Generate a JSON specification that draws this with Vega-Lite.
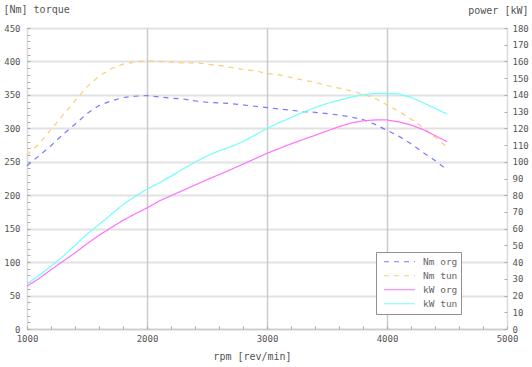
{
  "$schema": "https://vega.github.io/schema/vega-lite/v6.json",
  "autosize": {"type": "none"},
  "padding": {"left": 27, "top": 28, "right": 25, "bottom": 38},
  "width": 480,
  "height": 301,
  "background": "white",
  "datasets": {
    "nm": [
      {"rpm":1000,"s":"Nm org","v":244},{"rpm":1100,"s":"Nm org","v":259},{"rpm":1200,"s":"Nm org","v":274},{"rpm":1300,"s":"Nm org","v":291},{"rpm":1400,"s":"Nm org","v":306},{"rpm":1500,"s":"Nm org","v":322},{"rpm":1600,"s":"Nm org","v":334},{"rpm":1700,"s":"Nm org","v":341},{"rpm":1800,"s":"Nm org","v":346},{"rpm":1900,"s":"Nm org","v":348},{"rpm":2000,"s":"Nm org","v":349},{"rpm":2100,"s":"Nm org","v":347},{"rpm":2200,"s":"Nm org","v":345},{"rpm":2300,"s":"Nm org","v":344},{"rpm":2400,"s":"Nm org","v":341},{"rpm":2500,"s":"Nm org","v":339},{"rpm":2600,"s":"Nm org","v":338},{"rpm":2700,"s":"Nm org","v":337},{"rpm":2800,"s":"Nm org","v":335},{"rpm":2900,"s":"Nm org","v":333},{"rpm":3000,"s":"Nm org","v":331},{"rpm":3100,"s":"Nm org","v":329},{"rpm":3200,"s":"Nm org","v":327},{"rpm":3300,"s":"Nm org","v":325},{"rpm":3400,"s":"Nm org","v":324},{"rpm":3500,"s":"Nm org","v":322},{"rpm":3600,"s":"Nm org","v":320},{"rpm":3700,"s":"Nm org","v":317},{"rpm":3800,"s":"Nm org","v":313},{"rpm":3900,"s":"Nm org","v":306},{"rpm":4000,"s":"Nm org","v":297},{"rpm":4100,"s":"Nm org","v":288},{"rpm":4200,"s":"Nm org","v":277},{"rpm":4300,"s":"Nm org","v":264},{"rpm":4400,"s":"Nm org","v":252},{"rpm":4500,"s":"Nm org","v":238},
      {"rpm":1000,"s":"Nm tun","v":260},{"rpm":1100,"s":"Nm tun","v":277},{"rpm":1200,"s":"Nm tun","v":298},{"rpm":1300,"s":"Nm tun","v":320},{"rpm":1400,"s":"Nm tun","v":341},{"rpm":1500,"s":"Nm tun","v":362},{"rpm":1600,"s":"Nm tun","v":378},{"rpm":1700,"s":"Nm tun","v":389},{"rpm":1800,"s":"Nm tun","v":396},{"rpm":1900,"s":"Nm tun","v":399},{"rpm":2000,"s":"Nm tun","v":401},{"rpm":2100,"s":"Nm tun","v":400},{"rpm":2200,"s":"Nm tun","v":399},{"rpm":2300,"s":"Nm tun","v":398},{"rpm":2400,"s":"Nm tun","v":398},{"rpm":2500,"s":"Nm tun","v":396},{"rpm":2600,"s":"Nm tun","v":394},{"rpm":2700,"s":"Nm tun","v":391},{"rpm":2800,"s":"Nm tun","v":388},{"rpm":2900,"s":"Nm tun","v":386},{"rpm":3000,"s":"Nm tun","v":382},{"rpm":3100,"s":"Nm tun","v":380},{"rpm":3200,"s":"Nm tun","v":376},{"rpm":3300,"s":"Nm tun","v":372},{"rpm":3400,"s":"Nm tun","v":369},{"rpm":3500,"s":"Nm tun","v":364},{"rpm":3600,"s":"Nm tun","v":360},{"rpm":3700,"s":"Nm tun","v":356},{"rpm":3800,"s":"Nm tun","v":351},{"rpm":3900,"s":"Nm tun","v":345},{"rpm":4000,"s":"Nm tun","v":335},{"rpm":4100,"s":"Nm tun","v":325},{"rpm":4200,"s":"Nm tun","v":314},{"rpm":4300,"s":"Nm tun","v":301},{"rpm":4400,"s":"Nm tun","v":287},{"rpm":4500,"s":"Nm tun","v":272}
    ],
    "kw": [
      {"rpm":1000,"s":"kW org","v":25.6},{"rpm":1100,"s":"kW org","v":30.2},{"rpm":1200,"s":"kW org","v":35.5},{"rpm":1300,"s":"kW org","v":40.5},{"rpm":1400,"s":"kW org","v":45.5},{"rpm":1500,"s":"kW org","v":51},{"rpm":1600,"s":"kW org","v":56},{"rpm":1700,"s":"kW org","v":60.5},{"rpm":1800,"s":"kW org","v":65},{"rpm":1900,"s":"kW org","v":68.8},{"rpm":2000,"s":"kW org","v":72.4},{"rpm":2100,"s":"kW org","v":76.5},{"rpm":2200,"s":"kW org","v":79.7},{"rpm":2300,"s":"kW org","v":82.9},{"rpm":2400,"s":"kW org","v":86.1},{"rpm":2500,"s":"kW org","v":89.3},{"rpm":2600,"s":"kW org","v":92.3},{"rpm":2700,"s":"kW org","v":95.4},{"rpm":2800,"s":"kW org","v":98.6},{"rpm":2900,"s":"kW org","v":101.8},{"rpm":3000,"s":"kW org","v":105.1},{"rpm":3100,"s":"kW org","v":107.9},{"rpm":3200,"s":"kW org","v":110.7},{"rpm":3300,"s":"kW org","v":113.3},{"rpm":3400,"s":"kW org","v":115.8},{"rpm":3500,"s":"kW org","v":118.4},{"rpm":3600,"s":"kW org","v":121},{"rpm":3700,"s":"kW org","v":123.2},{"rpm":3800,"s":"kW org","v":124.5},{"rpm":3900,"s":"kW org","v":125},{"rpm":4000,"s":"kW org","v":125},{"rpm":4100,"s":"kW org","v":123.8},{"rpm":4200,"s":"kW org","v":122},{"rpm":4300,"s":"kW org","v":119.3},{"rpm":4400,"s":"kW org","v":115.7},{"rpm":4500,"s":"kW org","v":112},
      {"rpm":1000,"s":"kW tun","v":27},{"rpm":1100,"s":"kW tun","v":32},{"rpm":1200,"s":"kW tun","v":37.5},{"rpm":1300,"s":"kW tun","v":43.5},{"rpm":1400,"s":"kW tun","v":50},{"rpm":1500,"s":"kW tun","v":56.8},{"rpm":1600,"s":"kW tun","v":62.5},{"rpm":1700,"s":"kW tun","v":68.4},{"rpm":1800,"s":"kW tun","v":74.4},{"rpm":1900,"s":"kW tun","v":79.2},{"rpm":2000,"s":"kW tun","v":83.7},{"rpm":2100,"s":"kW tun","v":87.3},{"rpm":2200,"s":"kW tun","v":91.4},{"rpm":2300,"s":"kW tun","v":95.6},{"rpm":2400,"s":"kW tun","v":99.8},{"rpm":2500,"s":"kW tun","v":103.5},{"rpm":2600,"s":"kW tun","v":106.5},{"rpm":2700,"s":"kW tun","v":109},{"rpm":2800,"s":"kW tun","v":112.1},{"rpm":2900,"s":"kW tun","v":116},{"rpm":3000,"s":"kW tun","v":120},{"rpm":3100,"s":"kW tun","v":123.3},{"rpm":3200,"s":"kW tun","v":126.5},{"rpm":3300,"s":"kW tun","v":129.6},{"rpm":3400,"s":"kW tun","v":132.4},{"rpm":3500,"s":"kW tun","v":134.8},{"rpm":3600,"s":"kW tun","v":136.8},{"rpm":3700,"s":"kW tun","v":138.6},{"rpm":3800,"s":"kW tun","v":140.1},{"rpm":3900,"s":"kW tun","v":140.8},{"rpm":4000,"s":"kW tun","v":140.9},{"rpm":4100,"s":"kW tun","v":140.5},{"rpm":4200,"s":"kW tun","v":138.6},{"rpm":4300,"s":"kW tun","v":135.3},{"rpm":4400,"s":"kW tun","v":132},{"rpm":4500,"s":"kW tun","v":128.5}
    ]
  },
  "encoding": {
    "x": {
      "field": "rpm", "type": "quantitative",
      "scale": {"domain": [1000, 5000], "nice": false, "zero": false},
      "axis": {
        "values": [1000,1200,1400,1600,1800,2000,2200,2400,2600,2800,3000,3200,3400,3600,3800,4000,4200,4400,4600,4800,5000],
        "labelExpr": "datum.value % 1000 == 0 ? datum.value : ''",
        "labelFlush": false,
        "labelOverlap": false,
        "grid": true,
        "gridColor": "#cccccc",
        "gridWidth": 1.5,
        "gridOpacity": {"condition": {"test": "datum.value % 1000 == 0 && datum.value > 1000 && datum.value < 5000", "value": 1}, "value": 0},
        "tickSize": -3,
        "labelPadding": 8,
        "title": "rpm [rev/min]",
        "titleX": 225,
        "titleY": 27,
        "titleAlign": "center",
        "titleBaseline": "middle"
      }
    },
    "color": {
      "field": "s", "type": "nominal",
      "scale": {"domain": ["Nm org", "Nm tun", "kW org", "kW tun"], "range": ["#7878ff", "#ffcc70", "#ff70ff", "#70ffff"]},
      "legend": {"title": null}
    },
    "strokeDash": {
      "field": "s", "type": "nominal",
      "scale": {"domain": ["Nm org", "Nm tun", "kW org", "kW tun"], "range": [[5, 5], [5, 5], [1, 0], [1, 0]]},
      "legend": {"title": null}
    }
  },
  "layer": [
    {
      "data": {"name": "nm"},
      "mark": {"type": "line", "strokeWidth": 1.2},
      "encoding": {
        "y": {
          "field": "v", "type": "quantitative",
          "scale": {"domain": [0, 450], "nice": false},
          "axis": {
            "orient": "left",
            "values": [0,10,20,30,40,50,60,70,80,90,100,110,120,130,140,150,160,170,180,190,200,210,220,230,240,250,260,270,280,290,300,310,320,330,340,350,360,370,380,390,400,410,420,430,440,450],
            "labelExpr": "datum.value % 50 == 0 ? datum.value : ''",
            "labelOverlap": false,
            "grid": true,
            "gridColor": "#c4c4c4",
            "gridDash": [1, 1],
            "gridWidth": 2,
            "gridOpacity": {"condition": {"test": "datum.value % 50 == 0", "value": 1}, "value": 0},
            "tickSize": -3,
            "labelPadding": 10,
            "title": "[Nm] torque",
            "titleAngle": 0,
            "titleX": -24,
            "titleY": -19,
            "titleAlign": "left",
            "titleBaseline": "middle"
          }
        }
      }
    },
    {
      "data": {"name": "kw"},
      "mark": {"type": "line", "strokeWidth": 1.2},
      "encoding": {
        "y": {
          "field": "v", "type": "quantitative",
          "scale": {"domain": [0, 180], "nice": false},
          "axis": {
            "orient": "right",
            "values": [0,10,20,30,40,50,60,70,80,90,100,110,120,130,140,150,160,170,180],
            "labelOverlap": false,
            "grid": false,
            "tickSize": -3,
            "labelPadding": 8,
            "title": "power [kW]",
            "titleAngle": 0,
            "titleX": 21,
            "titleY": -18,
            "titleAlign": "right",
            "titleBaseline": "middle"
          }
        }
      }
    }
  ],
  "resolve": {"scale": {"y": "independent"}, "axis": {"y": "independent"}},
  "config": {
    "view": {"stroke": null},
    "axis": {
      "domainColor": "#b8b8b8",
      "domainDash": [1, 1],
      "domainWidth": 1.5,
      "tickColor": "#aaaaaa",
      "labelFont": "DejaVu Sans Mono",
      "labelFontSize": 9,
      "labelColor": "#555555",
      "titleFont": "DejaVu Sans Mono",
      "titleFontSize": 10,
      "titleFontWeight": "normal",
      "titleColor": "#555555"
    },
    "legend": {
      "orient": "none",
      "legendX": 349,
      "legendY": 224,
      "padding": 3,
      "symbolOffset": 4,
      "strokeColor": "#909090",
      "fillColor": "white",
      "symbolType": "stroke",
      "symbolSize": 961,
      "symbolStrokeWidth": 1.2,
      "labelFont": "DejaVu Sans Mono",
      "labelFontSize": 9.5,
      "labelColor": "#666666",
      "labelOffset": 7,
      "clipHeight": 13.5,
      "rowPadding": 0
    }
  }
}
